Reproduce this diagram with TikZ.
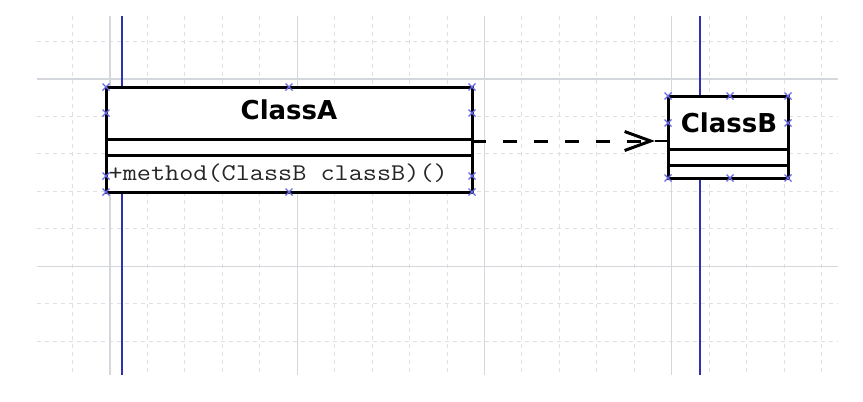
\documentclass[tikz,border=0pt]{standalone}
\usepackage{fontspec}
\usepackage{graphicx}
\newfontfamily\uifont{DejaVu Sans}
\usetikzlibrary{arrows.meta,calc}
\definecolor{gridminor}{RGB}{220,224,228}
\definecolor{gridmajor}{RGB}{212,216,220}
\definecolor{lifeblue}{RGB}{48,48,178}
\definecolor{handleblue}{RGB}{105,105,225}
\tikzset{
  minorgrid/.style={draw=gridminor, line width=1pt, dash pattern=on 4pt off 4pt},
  majorgrid/.style={draw=gridmajor, line width=1.2pt},
  lifeline/.style={draw=lifeblue, line width=1.8pt},
  classbox/.style={draw=black, fill=white, line width=3pt, rectangle, inner sep=0pt, outer sep=0pt},
  divider/.style={draw=black, line width=3pt},
  titletext/.style={font=\uifont\bfseries\fontsize{26}{30}\selectfont, inner sep=0pt, anchor=base},
  codetext/.style={font=\ttfamily\fontsize{24}{28}\selectfont, text=black!85, inner sep=0pt, anchor=base west},
  depend/.style={draw=black, line width=3pt, dash pattern=on 14pt off 17pt,
    -{Straight Barb[length=26pt, width=19pt, line width=3pt]}},
  handle/.style={draw=handleblue, line width=1.2pt}
}
\begin{document}
\begin{tikzpicture}[x=1pt,y=-1pt]
\useasboundingbox (0,0) rectangle (863,402);
\fill[white] (0,0) rectangle (863,402);
% grid
\begin{scope}
\clip (37,16) rectangle (838,375);
\foreach \k in {-2,...,19} \draw[minorgrid] ({110+37.45*\k},16) -- ({110+37.45*\k},375);
\foreach \k in {-1,...,8} \draw[minorgrid] (37,{79+37.45*\k}) -- (838,{79+37.45*\k});
\foreach \xx in {110,297.25,484.5,671.75} \draw[majorgrid] (\xx,16) -- (\xx,375);
\foreach \yy in {79,266.25} \draw[majorgrid] (37,\yy) -- (838,\yy);
\end{scope}
% lifelines
\draw[lifeline] (122,16) -- (122,375);
\draw[lifeline] (700,16) -- (700,375);
% ClassA
\node[classbox, minimum width=366pt, minimum height=105pt] (A) at (289,139.5) {};
\draw[divider] (106,139) -- (472,139);
\draw[divider] (106,155) -- (472,155);
\node[titletext] (Atitle) at (289,119) {ClassA};
\node[codetext] (Amethod) at (108.5,180) {\scalebox{1.143}[1]{+method(ClassB classB)()}};
% ClassB
\node[classbox, minimum width=120pt, minimum height=82pt] (B) at (728,137) {};
\draw[divider] (668,149) -- (788,149);
\draw[divider] (668,165) -- (788,165);
\node[titletext] (Btitle) at (729,132) {ClassB};
% dependency
\path (A.east) ++(0,1.5) coordinate (s);
\path (B.west) ++(0,4) coordinate (bw);
\path (bw) ++(-13,0) coordinate (t);
\draw[depend] (s) -- (t);
\draw[draw=black, line width=1.2pt] (t) -- (bw);
% handles
\foreach \x/\y in {106/87,289/87,472/87,106/113,472/113,106/176,472/176,106/192,289/192,472/192,
                   668/96,730/96,788/96,668/123,788/123,668/178,730/178,788/178}
  \draw[handle] ({\x-3.5},{\y-3.5}) -- ({\x+3.5},{\y+3.5}) ({\x-3.5},{\y+3.5}) -- ({\x+3.5},{\y-3.5});
\end{tikzpicture}
\end{document}
